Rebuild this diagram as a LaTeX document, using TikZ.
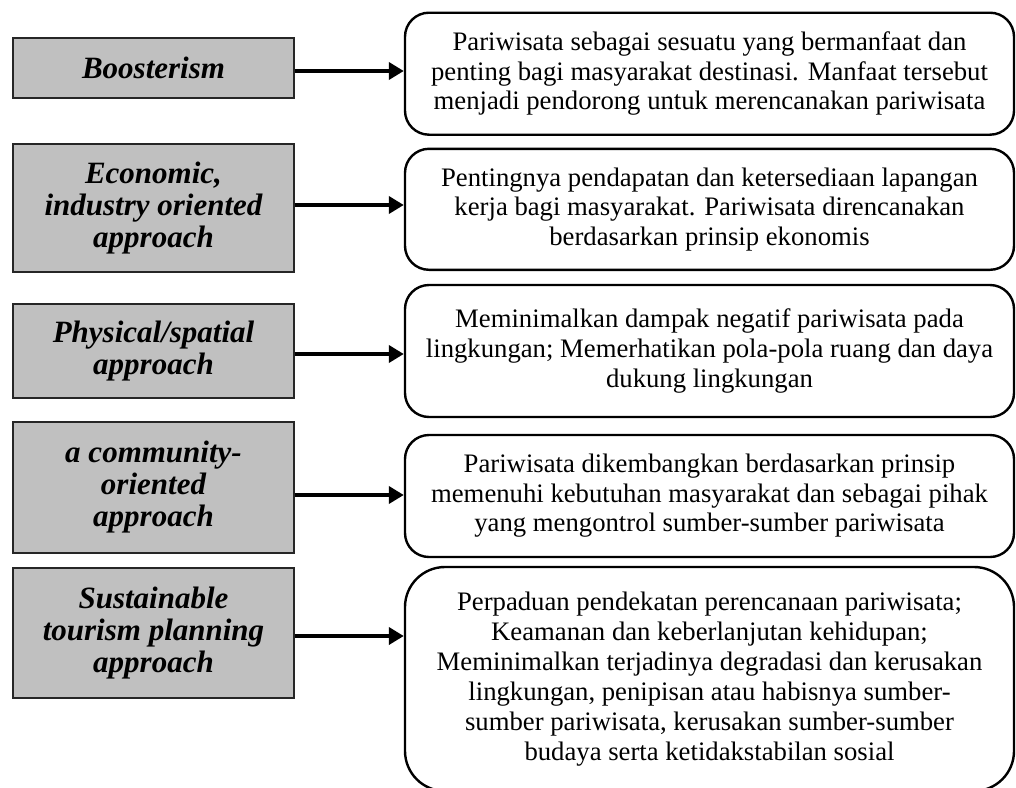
\documentclass[tikz,border=0pt]{standalone}
\usepackage{fontspec}
\setmainfont{Liberation Serif}
\usetikzlibrary{arrows.meta}
\begin{document}
\begin{tikzpicture}[x=1pt,y=-1pt,
  lbox/.style={draw=black!85, line width=1.4pt, fill={rgb,255:red,192;green,192;blue,192},
    minimum width=281pt, inner sep=0pt, align=center,
    font=\fontsize{31}{32}\selectfont\bfseries\itshape},
  rbox/.style={draw=black, line width=2.4pt, rounded corners=24pt,
    minimum width=609pt, inner sep=0pt, align=center,
    font=\fontsize{26.7}{29.6}\selectfont},
  arr/.style={line width=4pt, -{Triangle[length=15pt,width=17pt]}}]
\useasboundingbox (0,0) rectangle (1016,787);
% left boxes
\node[lbox, minimum height=60pt]  (l1) at (153.5,68)    {Boosterism};
\node[lbox, minimum height=128pt] (l2) at (153.5,208)   {Economic,\\industry oriented\\approach};
\node[lbox, minimum height=94pt]  (l3) at (153.5,351)   {Physical/spatial\\approach};
\node[lbox, minimum height=131pt] (l4) at (153.5,487.5) {a community-\\oriented\\approach};
\node[lbox, minimum height=130pt] (l5) at (153.5,633)   {Sustainable\\tourism planning\\approach};
% right boxes
\node[rbox, minimum height=122pt] (r1) at (709.5,73.7) {Pariwisata sebagai sesuatu yang bermanfaat dan\\penting bagi masyarakat destinasi. Manfaat tersebut\\menjadi pendorong untuk merencanakan pariwisata};
\node[rbox, minimum height=121pt] (r2) at (709.5,209.3) {Pentingnya pendapatan dan ketersediaan lapangan\\kerja bagi masyarakat. Pariwisata direncanakan\\berdasarkan prinsip ekonomis};
\node[rbox, minimum height=132pt] (r3) at (709.5,351) {Meminimalkan dampak negatif pariwisata pada\\lingkungan; Memerhatikan pola-pola ruang dan daya\\dukung lingkungan};
\node[rbox, minimum height=122pt] (r4) at (709.5,496) {Pariwisata dikembangkan berdasarkan prinsip\\memenuhi kebutuhan masyarakat dan sebagai pihak\\yang mengontrol sumber-sumber pariwisata};
\node[rbox, rounded corners=40pt, minimum height=224pt,
  font=\fontsize{26.7}{30.1}\selectfont] (r5) at (709.5,679) {Perpaduan pendekatan perencanaan pariwisata;\\Keamanan dan keberlanjutan kehidupan;\\Meminimalkan terjadinya degradasi dan kerusakan\\lingkungan, penipisan atau habisnya sumber-\\sumber pariwisata, kerusakan sumber-sumber\\budaya serta ketidakstabilan sosial};
% arrows
\draw[arr] (l1.east |- 0,71)  -- (r1.west |- 0,71);
\draw[arr] (l2.east |- 0,205) -- (r2.west |- 0,205);
\draw[arr] (l3.east |- 0,354) -- (r3.west |- 0,354);
\draw[arr] (l4.east |- 0,495) -- (r4.west |- 0,495);
\draw[arr] (l5.east |- 0,636) -- (r5.west |- 0,636);
\end{tikzpicture}
\end{document}
